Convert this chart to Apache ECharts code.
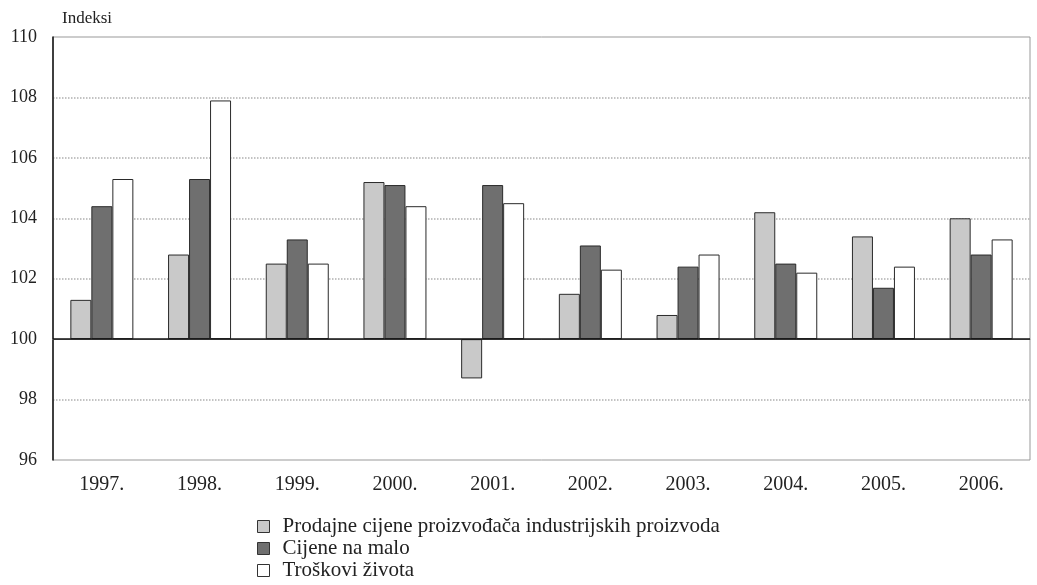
<!DOCTYPE html>
<html>
<head>
<meta charset="utf-8">
<script src="https://cdn.jsdelivr.net/npm/echarts@6/dist/echarts.min.js"></script>
<style>html,body{margin:0;padding:0;background:#fff}#c{width:1037px;height:585px}</style>
</head>
<body>
<div id="c"></div>
<script>
const categories = ['1997.', '1998.', '1999.', '2000.', '2001.', '2002.', '2003.', '2004.', '2005.', '2006.'];
const seriesNames = ['Prodajne cijene proizvođača industrijskih proizvoda', 'Cijene na malo', 'Troškovi života'];
const producerPrices = [101.3, 102.8, 102.5, 105.2, 98.7, 101.5, 100.8, 104.2, 103.4, 104.0];
const retailPrices = [104.4, 105.3, 103.3, 105.1, 105.1, 103.1, 102.4, 102.5, 101.7, 102.8];
const costOfLiving = [105.3, 107.9, 102.5, 104.4, 104.5, 102.3, 102.8, 102.2, 102.4, 103.3];
const baseIndex = 100;
const yMin = 96, yMax = 110, yStep = 2;

const font = '"Liberation Serif", "DejaVu Serif", serif';
const colors = ['#c9c9c9', '#6f6f6f', '#ffffff'];
const valuesList = [producerPrices, retailPrices, costOfLiving];

const series = valuesList.map((vals, i) => ({
  name: seriesNames[i],
  type: 'bar',
  barWidth: 21,
  barGap: '0%',
  data: vals.map(v => +(v - baseIndex).toFixed(2)),
  itemStyle: { color: colors[i], borderColor: '#2a2a2a', borderWidth: 1 },
  emphasis: { disabled: true },
  markLine: i === 0 ? {
    silent: true, symbol: 'none', label: { show: false },
    lineStyle: { color: '#111', width: 1.5, type: 'solid' },
    data: [{ yAxis: 0 }]
  } : undefined
}));

const chart = echarts.init(document.getElementById('c'));
chart.setOption({
  animation: false,
  backgroundColor: '#fff',
  grid: { left: 53, right: 7, top: 37, bottom: 125, show: true, borderColor: '#999', borderWidth: 1 },
  legend: {
    orient: 'vertical', left: 257, top: 516, height: 69, padding: 0, itemGap: 1, itemWidth: 12, itemHeight: 12,
    icon: 'rect',
    textStyle: { fontFamily: font, fontSize: 21, lineHeight: 19, color: '#222', padding: [0, 0, 0, 8] },
    itemStyle: { borderColor: '#333', borderWidth: 1 },
    data: seriesNames
  },
  xAxis: {
    type: 'category', data: categories,
    axisLine: { show: true, lineStyle: { color: '#999' } },
    axisTick: { show: false },
    axisLabel: { fontFamily: font, fontSize: 20, color: '#222', margin: 15 }
  },
  yAxis: {
    type: 'value', min: yMin - baseIndex, max: yMax - baseIndex, interval: yStep,
    name: 'Indeksi', nameLocation: 'end', nameGap: 10,
    nameTextStyle: { fontFamily: font, fontSize: 17, color: '#222', align: 'left', padding: [0, 0, 0, 9] },
    axisLine: { show: true, lineStyle: { color: '#111', width: 1.5 } },
    axisTick: { show: false },
    axisLabel: { fontFamily: font, fontSize: 18, color: '#222', margin: 16, formatter: v => String(v + baseIndex) },
    splitLine: { show: true, lineStyle: { type: 'dotted', width: 1.5,
      color: ['rgba(0,0,0,0)', '#b0b0b0', 'rgba(0,0,0,0)', '#b0b0b0', '#b0b0b0', '#b0b0b0', '#b0b0b0', 'rgba(0,0,0,0)'] } }
  },
  series: series
});
</script>
</body>
</html>
